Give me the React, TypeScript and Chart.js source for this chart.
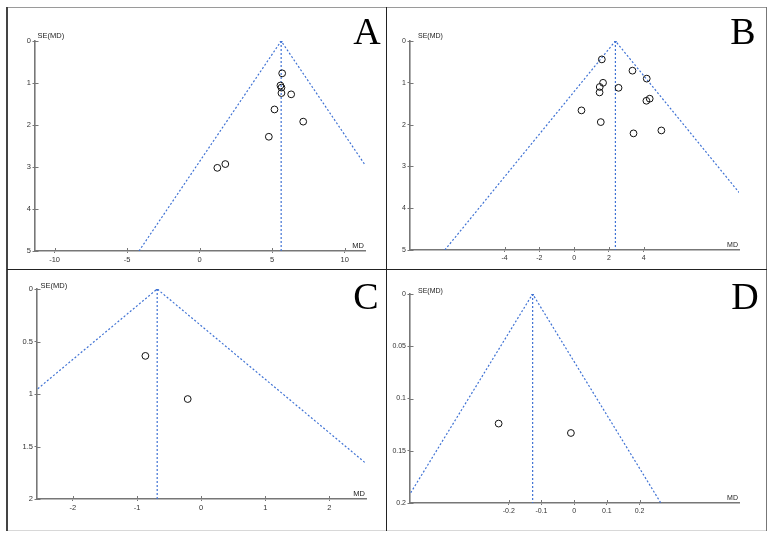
import { useEffect, useRef } from "react";
import { Chart, registerables } from "chart.js";

Chart.register(...registerables);

// ---- Panel A ----
const studiesA_md = [5.69, 5.57, 5.64, 5.64, 6.31, 5.16, 7.14, 4.77, 1.77, 1.22];
const studiesA_se = [0.77, 1.06, 1.11, 1.24, 1.27, 1.63, 1.92, 2.28, 2.93, 3.02];
const pooledA = 5.62;
const funnelA_md = [-4.18, 5.62, 15.42];
const funnelA_se = [5, 0, 5];
const xTicksA = [-10, -5, 0, 5, 10];
const yTicksA = [0, 1, 2, 3, 4, 5];

// ---- Panel B ----
const studiesB_md = [1.59, 3.35, 4.17, 1.66, 1.47, 2.55, 1.46, 4.34, 4.15, 0.42, 1.53, 5.01, 3.41];
const studiesB_se = [0.44, 0.71, 0.9, 1.0, 1.1, 1.12, 1.23, 1.38, 1.43, 1.66, 1.94, 2.14, 2.21];
const pooledB = 2.37;
const funnelB_md = [-7.43, 2.37, 12.17];
const funnelB_se = [5, 0, 5];
const xTicksB = [-4, -2, 0, 2, 4];
const yTicksB = [0, 1, 2, 3, 4, 5];

// ---- Panel C ----
const studiesC_md = [-0.87, -0.21];
const studiesC_se = [0.637, 1.048];
const pooledC = -0.686;
const funnelC_md = [-4.606, -0.686, 3.234];
const funnelC_se = [2, 0, 2];
const xTicksC = [-2, -1, 0, 1, 2];
const yTicksC = [0, 0.5, 1, 1.5, 2];

// ---- Panel D ----
const studiesD_md = [-0.231, -0.01];
const studiesD_se = [0.124, 0.133];
const pooledD = -0.127;
const funnelD_md = [-0.519, -0.127, 0.265];
const funnelD_se = [0.2, 0, 0.2];
const xTicksD = [-0.2, -0.1, 0, 0.1, 0.2];
const yTicksD = [0, 0.05, 0.1, 0.15, 0.2];

type Panel = {
  letter: string;
  md: number[];
  se: number[];
  pooled: number;
  funnelMd: number[];
  funnelSe: number[];
  xTicks: number[];
  yTicks: number[];
  xMin: number;
  xMax: number;
  yMax: number;
  // layout
  left: number;
  top: number;
  width: number;
  height: number;
  yAxisWidth: number;
  xAxisHeight: number;
  padTop: number;
  padRight: number;
  fontSize: number;
  seLabelDx: number;
  seLabelDy: number;
  letterX: number;
  letterY: number;
};

const panels: Panel[] = [
  {
    letter: "A", md: studiesA_md, se: studiesA_se, pooled: pooledA,
    funnelMd: funnelA_md, funnelSe: funnelA_se, xTicks: xTicksA, yTicks: yTicksA,
    xMin: -11.35, xMax: 11.4, yMax: 5,
    left: 8, top: 8, width: 377, height: 260,
    yAxisWidth: 27, xAxisHeight: 17, padTop: 33, padRight: 20,
    fontSize: 7.5, seLabelDx: 2.5, seLabelDy: -3.5, letterX: 359, letterY: 36,
  },
  {
    letter: "B", md: studiesB_md, se: studiesB_se, pooled: pooledB,
    funnelMd: funnelB_md, funnelSe: funnelB_se, xTicks: xTicksB, yTicks: yTicksB,
    xMin: -9.43, xMax: 9.47, yMax: 5,
    left: 387, top: 8, width: 378, height: 260,
    yAxisWidth: 23, xAxisHeight: 18, padTop: 33, padRight: 26,
    fontSize: 7, seLabelDx: 8, seLabelDy: -3.5, letterX: 356, letterY: 36,
  },
  {
    letter: "C", md: studiesC_md, se: studiesC_se, pooled: pooledC,
    funnelMd: funnelC_md, funnelSe: funnelC_se, xTicks: xTicksC, yTicks: yTicksC,
    xMin: -2.56, xMax: 2.57, yMax: 2,
    left: 8, top: 270, width: 377, height: 259,
    yAxisWidth: 29, xAxisHeight: 30, padTop: 19, padRight: 19,
    fontSize: 7.5, seLabelDx: 3.5, seLabelDy: -1.2, letterX: 358, letterY: 39,
  },
  {
    letter: "D", md: studiesD_md, se: studiesD_se, pooled: pooledD,
    funnelMd: funnelD_md, funnelSe: funnelD_se, xTicks: xTicksD, yTicks: yTicksD,
    xMin: -0.502, xMax: 0.504, yMax: 0.2,
    left: 387, top: 270, width: 378, height: 259,
    yAxisWidth: 23, xAxisHeight: 26, padTop: 24, padRight: 26,
    fontSize: 7, seLabelDx: 8, seLabelDy: -1.2, letterX: 358, letterY: 39,
  },
];

const FUNNEL_BLUE = "#3f72d4";
const AXIS_GREY = "#777777";
const TEXT_GREY = "#333333";

function fmt(v: number): string {
  return String(Math.round(v * 1000) / 1000);
}

function FunnelPlot({ p }: { p: Panel }) {
  const ref = useRef<HTMLCanvasElement | null>(null);

  useEffect(() => {
    if (!ref.current) return;
    const font = { family: "'Liberation Sans', Arial, sans-serif", size: p.fontSize };

    // Tick marks cross the axis line: this adds the inner half of each mark.
    const innerTicks = {
      id: "innerTicks",
      afterDraw(chart: Chart) {
        const { ctx, chartArea, scales } = chart as any;
        ctx.save();
        ctx.strokeStyle = AXIS_GREY;
        ctx.lineWidth = 1;
        ctx.beginPath();
        for (const v of p.xTicks) {
          const px = Math.round(scales.x.getPixelForValue(v)) + 0.5;
          ctx.moveTo(px, chartArea.bottom);
          ctx.lineTo(px, chartArea.bottom - 3);
        }
        for (const v of p.yTicks) {
          const py = Math.round(scales.y.getPixelForValue(v)) + 0.5;
          ctx.moveTo(chartArea.left, py);
          ctx.lineTo(chartArea.left + 3.5, py);
        }
        ctx.stroke();
        ctx.restore();
      },
    };

    const labels = {
      id: "funnelLabels",
      afterDraw(chart: Chart) {
        const { ctx, chartArea } = chart;
        ctx.save();
        ctx.fillStyle = "#222";
        ctx.font = `${p.fontSize}px 'Liberation Sans', Arial, sans-serif`;
        ctx.textBaseline = "alphabetic";
        ctx.textAlign = "left";
        ctx.fillText("SE(MD)", chartArea.left + p.seLabelDx, chartArea.top + p.seLabelDy);
        ctx.textAlign = "right";
        ctx.fillText("MD", chartArea.right - 1, chartArea.bottom - 3);
        ctx.fillStyle = "#000";
        ctx.font = "38px 'Liberation Serif', 'Times New Roman', serif";
        ctx.textAlign = "center";
        ctx.fillText(p.letter, p.letterX, p.letterY);
        ctx.restore();
      },
    };

    const chart = new Chart(ref.current, {
      type: "scatter",
      data: {
        datasets: [
          {
            label: "Pseudo 95% limits",
            data: p.funnelMd.map((x, i) => ({ x, y: p.funnelSe[i] })),
            showLine: true,
            borderColor: FUNNEL_BLUE,
            borderWidth: 1.2,
            borderDash: [2, 2],
            pointRadius: (c: any) => (c.dataIndex === 1 ? 1.5 : 0),
            pointBackgroundColor: FUNNEL_BLUE,
            pointBorderWidth: 0,
            clip: 0,
            order: 2,
          },
          {
            label: "Pooled MD",
            data: [
              { x: p.pooled, y: 0 },
              { x: p.pooled, y: p.yMax },
            ],
            showLine: true,
            borderColor: FUNNEL_BLUE,
            borderWidth: 1.2,
            borderDash: [2, 2],
            pointRadius: 0,
            clip: 0,
            order: 2,
          },
          {
            label: "Studies",
            data: p.md.map((x, i) => ({ x, y: p.se[i] })),
            pointStyle: "circle",
            pointRadius: 3.4,
            pointBorderWidth: 1,
            pointBorderColor: "#111",
            pointBackgroundColor: "rgba(255,255,255,0)",
            order: 1,
          },
        ],
      },
      options: {
        animation: false,
        responsive: false,
        maintainAspectRatio: false,
        layout: { padding: { top: p.padTop, right: p.padRight, left: 0, bottom: 0 } },
        plugins: { legend: { display: false }, tooltip: { enabled: false } },
        scales: {
          x: {
            type: "linear",
            min: p.xMin,
            max: p.xMax,
            afterBuildTicks: (s: any) => {
              s.ticks = p.xTicks.map((v) => ({ value: v }));
            },
            afterFit: (s: any) => {
              s.height = p.xAxisHeight;
            },
            grid: { drawOnChartArea: false, drawTicks: true, tickLength: 2, color: AXIS_GREY, lineWidth: 1 },
            border: { color: AXIS_GREY, width: 1.6 },
            ticks: {
              font,
              color: TEXT_GREY,
              padding: 2,
              autoSkip: false,
              maxRotation: 0,
              callback: (v: any) => fmt(Number(v)),
            },
          },
          y: {
            type: "linear",
            reverse: true,
            min: 0,
            max: p.yMax,
            afterBuildTicks: (s: any) => {
              s.ticks = p.yTicks.map((v) => ({ value: v }));
            },
            afterFit: (s: any) => {
              s.width = p.yAxisWidth;
            },
            grid: { drawOnChartArea: false, drawTicks: true, tickLength: 2.5, color: AXIS_GREY, lineWidth: 1 },
            border: { color: AXIS_GREY, width: 1.6 },
            ticks: {
              font,
              color: TEXT_GREY,
              padding: 1.5,
              autoSkip: false,
              callback: (v: any) => fmt(Number(v)),
            },
          },
        },
      },
      plugins: [innerTicks, labels],
    } as any);

    return () => chart.destroy();
  }, [p]);

  return (
    <canvas
      ref={ref}
      width={p.width}
      height={p.height}
      style={{ position: "absolute", left: p.left, top: p.top, width: p.width, height: p.height }}
    />
  );
}

function Line({ x, y, w, h, c }: { x: number; y: number; w: number; h: number; c: string }) {
  return <div style={{ position: "absolute", left: x, top: y, width: w, height: h, background: c }} />;
}

export default function App() {
  return (
    <div style={{ position: "absolute", left: 0, top: 0, width: 775, height: 540, background: "#fff", overflow: "hidden" }}>
      {panels.map((p) => (
        <FunnelPlot key={p.letter} p={p} />
      ))}
      {/* outer frame */}
      <Line x={7} y={7} w={760} h={1} c="#9a9a9a" />
      <Line x={7} y={530} w={760} h={1} c="#d8d8d8" />
      <Line x={6} y={7} w={1.5} h={524} c="#444" />
      <Line x={765.5} y={7} w={1.2} h={524} c="#777" />
      {/* dividers */}
      <Line x={385.5} y={7} w={1.5} h={524} c="#222" />
      <Line x={7} y={268.5} w={760} h={1.5} c="#222" />
    </div>
  );
}
